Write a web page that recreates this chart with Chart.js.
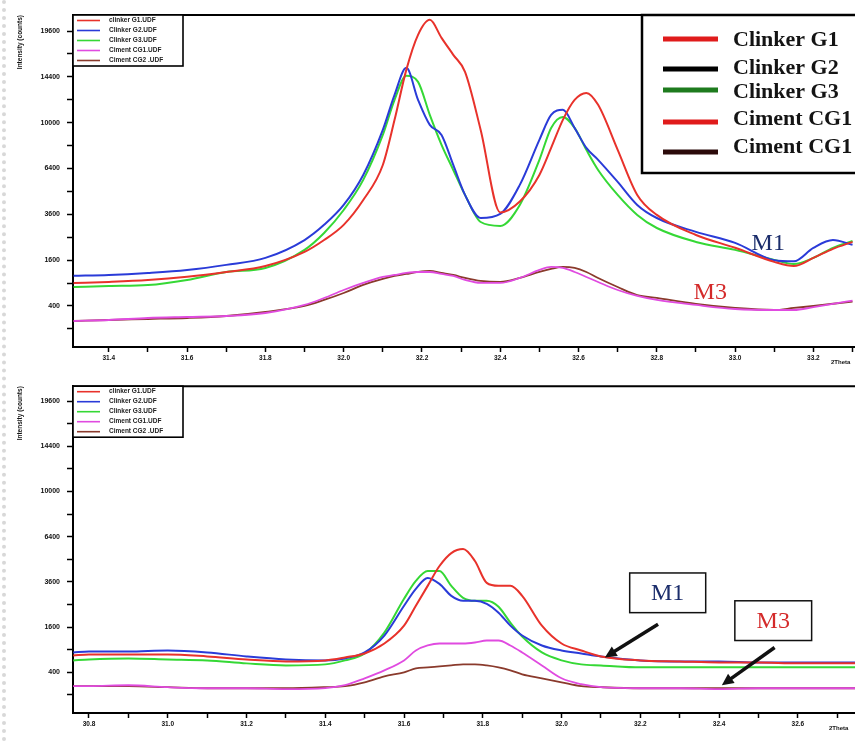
<!DOCTYPE html>
<html>
<head>
<meta charset="utf-8">
<title>XRD clinker / ciment</title>
<script src="https://cdn.jsdelivr.net/npm/chart.js@4.4.1/dist/chart.umd.min.js"></script>
<style>
    html, body { margin: 0; padding: 0; background: #fff; overflow: hidden; }
    #wrap { position: relative; width: 855px; height: 742px; overflow: hidden; background: #fff; }
    #edge { position: absolute; left: 2px; top: 0; width: 0; height: 742px; border-left: 4px dotted #d8d8d8; }
    canvas { position: absolute; left: 0; }
    #topChart { top: 0; }
    #bottomChart { top: 375px; }
</style>
</head>
<body>
<div id="wrap">
    <div id="edge"></div>
    <canvas id="topChart" width="900" height="375"></canvas>
    <canvas id="bottomChart" width="920" height="367"></canvas>
</div>
<script>
// series names (small legend inside each plot)
const seriesNames = ['clinker G1.UDF', 'Clinker G2.UDF', 'Clinker G3.UDF', 'Ciment CG1.UDF', 'Ciment CG2 .UDF'];
const seriesColors = ['#e8322b', '#2a3bd8', '#35d835', '#e04be0', '#8a3a2c'];

// big legend (top right overlay)
const bigLegendLabels = ['Clinker G1', 'Clinker G2', 'Clinker G3', 'Ciment CG1', 'Ciment CG1'];
const bigLegendColors = ['#e01b1b', '#000000', '#1e7b1e', '#e01b1b', '#2b0a0a'];

// intensity axis (square-root scale), counts
const yTickLabels = [400, 1600, 3600, 6400, 10000, 14400, 19600];
const yMinorTicks = [100, 900, 2500, 4900, 8100, 12100, 16900];

// top panel: 2Theta (deg)
const topTicks = [31.4, 31.6, 31.8, 32.0, 32.2, 32.4, 32.6, 32.8, 33.0, 33.2, 33.4];
const topMinor = [31.5, 31.7, 31.9, 32.1, 32.3, 32.5, 32.7, 32.9, 33.1, 33.3];
const topTheta = [31.31, 31.4, 31.5, 31.6, 31.7, 31.8, 31.9, 31.95, 32.0, 32.05, 32.1, 32.13, 32.16, 32.19, 32.22, 32.25, 32.28, 32.31, 32.35, 32.4, 32.45, 32.5, 32.53, 32.56, 32.59, 32.62, 32.65, 32.7, 32.75, 32.8, 32.9, 33.0, 33.1, 33.15, 33.2, 33.25, 33.3];
const topG1 = [900, 930, 980, 1070, 1210, 1400, 1900, 2380, 3070, 4390, 6650, 10250, 15140, 19140, 21000, 18780, 16800, 14930, 9380, 3700, 4300, 5960, 7920, 10250, 12090, 12770, 11620, 7770, 4690, 3570, 2600, 2060, 1540, 1400, 1680, 2020, 2300];
const topG2 = [1100, 1125, 1185, 1275, 1440, 1680, 2380, 3070, 4110, 5960, 9380, 12580, 15360, 12090, 9810, 8960, 6650, 4690, 3410, 3620, 5310, 8560, 10690, 11150, 9550, 7920, 7020, 5500, 4110, 3410, 2740, 2260, 1600, 1560, 2060, 2380, 2180];
const topG3 = [800, 825, 850, 985, 1215, 1340, 1980, 2690, 3830, 5630, 8960, 12090, 14510, 13880, 10690, 8160, 6300, 4690, 3210, 3020, 4110, 7020, 9550, 10510, 9550, 7770, 6300, 4690, 3570, 2920, 2300, 1980, 1610, 1470, 1680, 2060, 2340];
const topCG1 = [181, 193, 218, 231, 244, 287, 418, 552, 728, 903, 1067, 1125, 1184, 1214, 1214, 1154, 1096, 983, 903, 903, 1039, 1276, 1371, 1339, 1214, 1067, 929, 728, 594, 512, 418, 349, 333, 333, 380, 436, 500];
const topCG2 = [181, 193, 205, 218, 244, 302, 400, 512, 659, 851, 1011, 1096, 1154, 1214, 1245, 1184, 1125, 1039, 956, 929, 1039, 1214, 1307, 1371, 1339, 1214, 1039, 801, 613, 552, 436, 366, 333, 366, 400, 440, 480];

// bottom panel: 2Theta (deg)
const bottomTicks = [30.8, 31.0, 31.2, 31.4, 31.6, 31.8, 32.0, 32.2, 32.4, 32.6, 32.8];
const bottomMinor = [30.9, 31.1, 31.3, 31.5, 31.7, 31.9, 32.1, 32.3, 32.5, 32.7];
const bottomTheta = [30.76, 30.8, 30.9, 31.0, 31.1, 31.2, 31.3, 31.4, 31.45, 31.5, 31.55, 31.6, 31.63, 31.66, 31.69, 31.72, 31.75, 31.78, 31.81, 31.84, 31.87, 31.9, 31.95, 32.0, 32.05, 32.1, 32.2, 32.3, 32.4, 32.5, 32.6, 32.7, 32.75];
const bottomG1 = [755, 779, 779, 779, 731, 661, 617, 639, 707, 804, 1073, 1653, 2446, 3393, 4494, 5293, 5552, 4794, 3547, 3393, 3393, 2900, 1653, 1073, 880, 731, 639, 617, 595, 595, 574, 574, 574];
const bottomG2 = [829, 854, 854, 880, 829, 731, 661, 639, 684, 829, 1316, 2446, 3241, 3814, 3495, 2900, 2668, 2668, 2533, 2151, 1653, 1316, 1016, 880, 804, 731, 639, 617, 617, 595, 595, 595, 595];
const bottomG3 = [639, 661, 684, 661, 639, 574, 532, 553, 639, 804, 1412, 2759, 3653, 4204, 4204, 3393, 2806, 2668, 2668, 2402, 1762, 1284, 829, 639, 553, 532, 493, 493, 493, 493, 493, 493, 493];
const bottomCG1 = [192, 192, 204, 180, 168, 168, 157, 168, 204, 301, 436, 639, 880, 1016, 1073, 1073, 1073, 1102, 1161, 1161, 1016, 829, 532, 301, 217, 180, 168, 168, 157, 168, 168, 168, 168];
const bottomCG2 = [192, 192, 192, 180, 168, 168, 168, 180, 192, 243, 333, 400, 473, 493, 512, 532, 553, 553, 532, 493, 436, 366, 301, 243, 192, 180, 168, 168, 168, 168, 168, 168, 168];

// square-root intensity axis: plot sqrt(counts) on a linear scale
const yTickValues = yTickLabels.concat(yMinorTicks).map(Math.sqrt).sort((a, b) => a - b);

function toPoints(theta, counts) {
    return theta.map((t, i) => ({ x: t, y: Math.sqrt(counts[i]) }));
}

function buildDatasets(theta, series) {
    return series.map((counts, i) => ({
        label: seriesNames[i],
        data: toPoints(theta, counts),
        borderColor: seriesColors[i],
        borderWidth: i < 3 ? 2 : 1.8,
        pointRadius: 0,
        cubicInterpolationMode: 'monotone',
        fill: false
    }));
}

function drawSmallLegend(ctx, ca, rowGap) {
    const w = 110;
    const h = rowGap * 5 + 1;
    ctx.fillStyle = '#fff';
    ctx.fillRect(ca.left, ca.top, w, h);
    ctx.strokeStyle = '#000';
    ctx.lineWidth = 1.6;
    ctx.strokeRect(ca.left, ca.top, w, h);
    ctx.font = 'bold 6.5px "Liberation Sans", Arial, sans-serif';
    ctx.textBaseline = 'middle';
    ctx.textAlign = 'left';
    seriesNames.forEach((name, i) => {
        const y = ca.top + 5.5 + i * rowGap;
        ctx.strokeStyle = seriesColors[i];
        ctx.lineWidth = 1.6;
        ctx.beginPath();
        ctx.moveTo(ca.left + 4, y);
        ctx.lineTo(ca.left + 27, y);
        ctx.stroke();
        ctx.fillStyle = '#222';
        ctx.fillText(name, ca.left + 36, y);
    });
}

function drawArrow(ctx, x0, y0, x1, y1) {
    const ang = Math.atan2(y1 - y0, x1 - x0);
    const head = 13;
    ctx.strokeStyle = '#111';
    ctx.fillStyle = '#111';
    ctx.lineWidth = 3.5;
    ctx.beginPath();
    ctx.moveTo(x0, y0);
    ctx.lineTo(x1 - Math.cos(ang) * head * 0.7, y1 - Math.sin(ang) * head * 0.7);
    ctx.stroke();
    ctx.beginPath();
    ctx.moveTo(x1, y1);
    ctx.lineTo(x1 - head * Math.cos(ang - 0.45), y1 - head * Math.sin(ang - 0.45));
    ctx.lineTo(x1 - head * Math.cos(ang + 0.45), y1 - head * Math.sin(ang + 0.45));
    ctx.closePath();
    ctx.fill();
}

function drawTopNotes(chart) {
    const { ctx, scales } = chart;
    const x = scales.x, y = scales.y;

    // big legend box
    ctx.fillStyle = '#fff';
    ctx.fillRect(642, 15, 270, 158);
    ctx.strokeStyle = '#000';
    ctx.lineWidth = 2.5;
    ctx.strokeRect(642, 15, 270, 158);
    const lineY = [39, 69, 90, 122, 152];
    const textY = [40, 68, 92, 119, 147];
    ctx.font = 'bold 22px "Liberation Serif", "Times New Roman", serif';
    ctx.textBaseline = 'middle';
    ctx.textAlign = 'left';
    bigLegendLabels.forEach((label, i) => {
        ctx.strokeStyle = bigLegendColors[i];
        ctx.lineWidth = 5;
        ctx.beginPath();
        ctx.moveTo(663, lineY[i]);
        ctx.lineTo(718, lineY[i]);
        ctx.stroke();
        ctx.fillStyle = '#141414';
        ctx.fillText(label, 733, textY[i]);
    });

    ctx.font = '24px "Liberation Serif", "Times New Roman", serif';
    ctx.fillStyle = '#1b2d6b';
    ctx.fillText('M1', x.getPixelForValue(33.042), y.getPixelForValue(47.1));
    ctx.fillStyle = '#d42a2a';
    ctx.fillText('M3', x.getPixelForValue(32.894), y.getPixelForValue(25.7));
}

function drawBottomNotes(chart) {
    const { ctx, scales } = chart;
    const x = scales.x, y = scales.y;
    const notes = [
        { text: 'M1', color: '#1b2d6b', box: [32.173, 32.366, 63.96, 46.4], from: [32.245, 41.3], to: [32.11, 26.6] },
        { text: 'M3', color: '#d42a2a', box: [32.44, 32.635, 51.65, 34.07], from: [32.541, 31.0], to: [32.407, 14.3] }
    ];
    notes.forEach(n => {
        const l = x.getPixelForValue(n.box[0]);
        const r = x.getPixelForValue(n.box[1]);
        const t = y.getPixelForValue(n.box[2]);
        const b = y.getPixelForValue(n.box[3]);
        ctx.fillStyle = '#fff';
        ctx.fillRect(l, t, r - l, b - t);
        ctx.strokeStyle = '#111';
        ctx.lineWidth = 1.5;
        ctx.strokeRect(l, t, r - l, b - t);
        ctx.font = '24px "Liberation Serif", "Times New Roman", serif';
        ctx.textAlign = 'center';
        ctx.textBaseline = 'middle';
        ctx.fillStyle = n.color;
        ctx.fillText(n.text, (l + r) / 2, (t + b) / 2 + 1);
        drawArrow(ctx,
            x.getPixelForValue(n.from[0]), y.getPixelForValue(n.from[1]),
            x.getPixelForValue(n.to[0]), y.getPixelForValue(n.to[1]));
    });
}

const panelOverlay = {
    id: 'panelOverlay',
    afterDraw(chart, args, opts) {
        const { ctx, chartArea: ca } = chart;
        ctx.save();
        // top and right frame
        ctx.strokeStyle = '#000';
        ctx.lineWidth = 2;
        ctx.beginPath();
        ctx.moveTo(ca.left, ca.top);
        ctx.lineTo(ca.right, ca.top);
        ctx.lineTo(ca.right, ca.bottom);
        ctx.stroke();

        drawSmallLegend(ctx, ca, opts.rowGap);

        // axis unit, cut by the picture edge
        ctx.font = 'bold 6px "Liberation Sans", Arial, sans-serif';
        ctx.fillStyle = '#111';
        ctx.textAlign = 'left';
        ctx.textBaseline = 'middle';
        ctx.fillText('2Theta', opts.unitX, ca.bottom + 15);

        if (opts.notes === 'top') drawTopNotes(chart);
        if (opts.notes === 'bottom') drawBottomNotes(chart);
        ctx.restore();
    }
};

function makeChart(id, p) {
    const ctx = document.getElementById(id).getContext('2d');
    const xTickValues = p.ticks.concat(p.minor).sort((a, b) => a - b);
    return new Chart(ctx, {
        type: 'line',
        data: { datasets: buildDatasets(p.theta, p.series) },
        plugins: [panelOverlay],
        options: {
            responsive: false,
            animation: false,
            devicePixelRatio: 1,
            layout: { padding: { top: p.padTop, right: 4, left: 0, bottom: 0 } },
            plugins: {
                legend: { display: false },
                tooltip: { enabled: false },
                panelOverlay: { notes: p.notes, rowGap: p.rowGap, unitX: p.unitX }
            },
            scales: {
                x: {
                    type: 'linear',
                    min: p.xMin,
                    max: p.xMax,
                    afterBuildTicks: s => { s.ticks = xTickValues.map(v => ({ value: v })); },
                    afterFit: s => { s.height = p.xAxisHeight; },
                    ticks: {
                        autoSkip: false,
                        maxRotation: 0,
                        padding: 2,
                        color: '#111',
                        font: { family: '"Liberation Sans", Arial, sans-serif', size: 6.5, weight: 'bold' },
                        callback: v => p.ticks.some(t => Math.abs(t - v) < 1e-6) ? Number(v).toFixed(1) : ''
                    },
                    grid: { drawOnChartArea: false, tickLength: 5, tickColor: '#000', tickWidth: 1.5 },
                    border: { color: '#000', width: 2 }
                },
                y: {
                    type: 'linear',
                    min: p.yMin,
                    max: p.yMax,
                    afterBuildTicks: s => { s.ticks = yTickValues.map(v => ({ value: v })); },
                    afterFit: s => { s.width = 73; },
                    ticks: {
                        autoSkip: false,
                        padding: 7,
                        color: '#111',
                        font: { family: '"Liberation Sans", Arial, sans-serif', size: 7, weight: 'bold' },
                        callback: v => {
                            const c = Math.round(v * v);
                            return yTickLabels.includes(c) ? String(c) : '';
                        }
                    },
                    title: {
                        display: true,
                        text: 'Intensity (counts)',
                        align: 'end',
                        color: '#111',
                        padding: { top: 16, bottom: 0 },
                        font: { family: '"Liberation Sans", Arial, sans-serif', size: 6.5, weight: 'bold' }
                    },
                    grid: { drawOnChartArea: false, tickLength: 6, tickColor: '#000', tickWidth: 1.5 },
                    border: { color: '#000', width: 2 }
                }
            }
        }
    });
}

makeChart('topChart', {
    theta: topTheta,
    series: [topG1, topG2, topG3, topCG1, topCG2],
    ticks: topTicks,
    minor: topMinor,
    xMin: 31.3085,
    xMax: 33.4,
    yMin: 2.1,
    yMax: 147,
    padTop: 15,
    xAxisHeight: 28,
    rowGap: 10,
    unitX: 831,
    notes: 'top'
});

makeChart('bottomChart', {
    theta: bottomTheta,
    series: [bottomG1, bottomG2, bottomG3, bottomCG1, bottomCG2],
    ticks: bottomTicks,
    minor: bottomMinor,
    xMin: 30.7594,
    xMax: 32.9,
    yMin: 2.0,
    yMax: 146.6,
    padTop: 9,
    xAxisHeight: 29,
    rowGap: 10,
    unitX: 829,
    notes: 'bottom'
});
</script>
</body>
</html>
